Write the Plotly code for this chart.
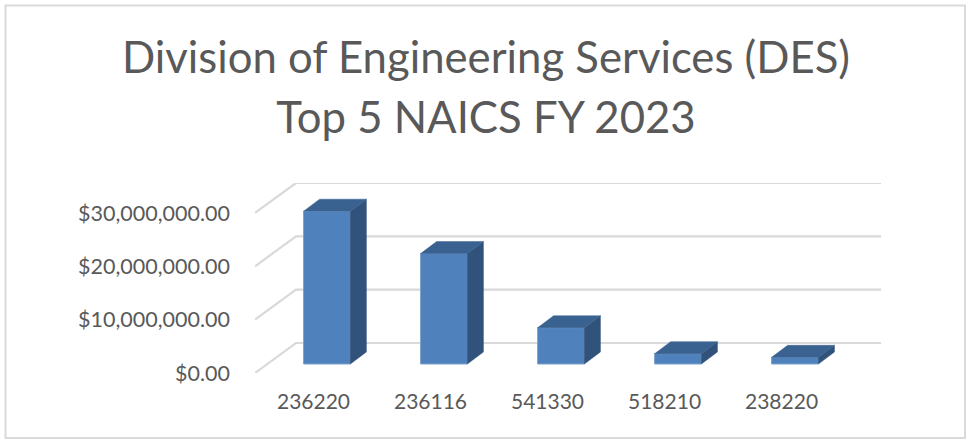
import plotly.graph_objects as go

categories = ["236220", "236116", "541330", "518210", "238220"]
values = [28650000, 20700000, 6800000, 1930000, 1250000]
y_ticks = [0, 10000000, 20000000, 30000000]
title_lines = ["Division of Engineering Services (DES)", "Top 5 NAICS FY 2023"]

# oblique projection, in axis units (categories / dollars)
WALL_DX, WALL_DY = 0.35, 5620000
BAR_X, BAR_BASE = 0.115, 1685000
BAR_W = 0.4
BAR_DX, BAR_DY = 0.137, 2250000

GRID = "#d9d9d9"
TEXT = "#595959"
FONT = "Lato, Carlito, sans-serif"
X_RANGE = [-0.5, 4.5 + WALL_DX]
Y_RANGE = [0, 30000000 + WALL_DY]

idx = list(range(len(categories)))
fig = go.Figure()

# gridlines: floor/wall edge plus back wall
gx, gy = [], []
for t in y_ticks:
    gx += [-0.5, -0.5 + WALL_DX, 4.5 + WALL_DX, None]
    gy += [t, t + WALL_DY, t + WALL_DY, None]
fig.add_trace(go.Scatter(x=gx, y=gy, mode="lines", line=dict(color=GRID, width=2.2),
                         cliponaxis=False, hoverinfo="skip", showlegend=False))

# side and top faces
sx, sy, tx, ty = [], [], [], []
for i, v in zip(idx, values):
    l = i + BAR_X - BAR_W / 2
    r = i + BAR_X + BAR_W / 2
    top = BAR_BASE + v
    sx += [r, r + BAR_DX, r + BAR_DX, r, r, None]
    sy += [BAR_BASE, BAR_BASE + BAR_DY, top + BAR_DY, top, BAR_BASE, None]
    tx += [l, l + BAR_DX, r + BAR_DX, r, l, None]
    ty += [top, top + BAR_DY, top + BAR_DY, top, top, None]
fig.add_trace(go.Scatter(x=sx, y=sy, xaxis="x2", yaxis="y2", mode="lines", fill="toself",
                         fillcolor="#31527b", line=dict(color="#31527b", width=0.5),
                         cliponaxis=False, hoverinfo="skip", showlegend=False))
fig.add_trace(go.Scatter(x=tx, y=ty, xaxis="x2", yaxis="y2", mode="lines", fill="toself",
                         fillcolor="#3a6291", line=dict(color="#3a6291", width=0.5),
                         cliponaxis=False, hoverinfo="skip", showlegend=False))

# front faces
fig.add_trace(go.Bar(x=[i + BAR_X for i in idx], y=values, base=BAR_BASE, width=BAR_W,
                     xaxis="x2", yaxis="y2",
                     marker=dict(color="#4f81bd", line=dict(color="#7fa1cc", width=1)),
                     cliponaxis=False, showlegend=False))

title_text = "<br>".join(f'<span style="font-size:43.7px">{t}</span>' for t in title_lines)

fig.update_layout(
    width=967, height=439, autosize=False,
    margin=dict(l=255, r=86, t=183, b=66),
    paper_bgcolor="white", plot_bgcolor="rgba(0,0,0,0)",
    font=dict(family=FONT, color=TEXT),
    title=dict(text=title_text, x=486 / 967, xanchor="center",
               y=0.834, yanchor="middle",
               font=dict(family=FONT, size=46, color=TEXT)),
    xaxis=dict(range=X_RANGE, tickmode="array", tickvals=idx, ticktext=categories,
               showgrid=False, zeroline=False, showline=False, ticks="",
               ticklabelstandoff=14, tickfont=dict(size=21, color=TEXT)),
    yaxis=dict(range=Y_RANGE, tickmode="array", tickvals=y_ticks,
               tickformat="$,.2f", showgrid=False, zeroline=False, showline=False, ticks="",
               ticklabelstandoff=24, tickfont=dict(size=21.5, color=TEXT)),
    xaxis2=dict(range=X_RANGE, overlaying="x", visible=False),
    yaxis2=dict(range=Y_RANGE, overlaying="y", visible=False),
    shapes=[dict(type="rect", xref="paper", yref="paper", layer="below",
                 x0=-249.5 / 626, x1=710 / 626, y0=-65 / 190, y1=367.5 / 190,
                 line=dict(color=GRID, width=2), fillcolor="white")],
)

fig.write_html("out.html", config={"displayModeBar": False},
               post_script="document.body.style.margin='0';")
